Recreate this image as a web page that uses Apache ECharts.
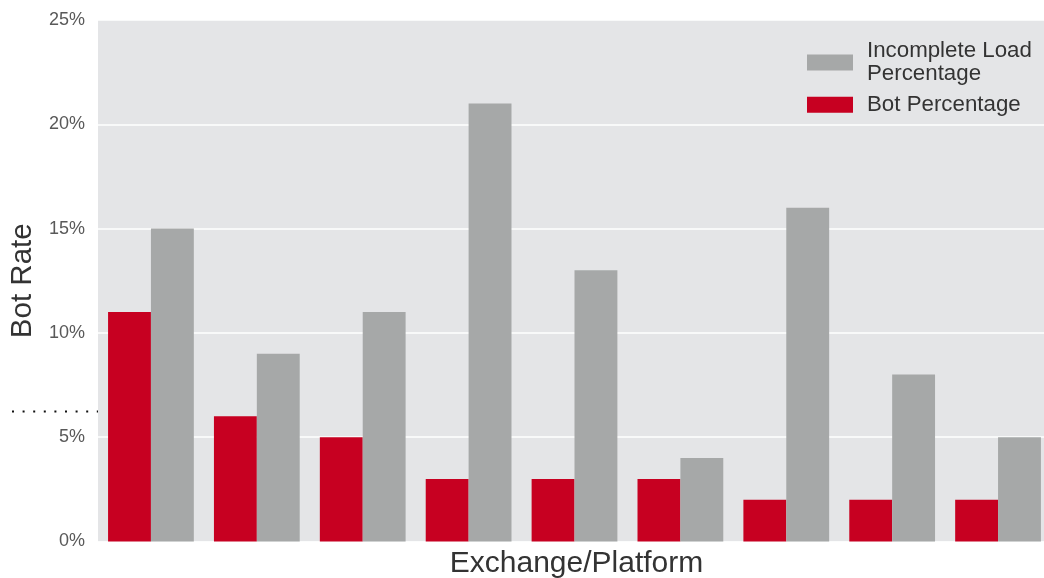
<!DOCTYPE html>
<html>
<head>
<meta charset="utf-8">
<script src="https://cdn.jsdelivr.net/npm/echarts@6/dist/echarts.min.js"></script>
<style>html,body{margin:0;padding:0;background:#fff}#c{width:1044px;height:578px}</style>
</head>
<body>
<div id="c"></div>
<script>
const categories = ['1','2','3','4','5','6','7','8','9'];
const botPercentage = [11, 6, 5, 3, 3, 3, 2, 2, 2];
const incompleteLoad = [15, 9, 11, 21, 13, 4, 16, 8, 5];
const yTicks = [0, 5, 10, 15, 20, 25];

const chart = echarts.init(document.getElementById('c'));
const font = '"Liberation Sans", Arial, sans-serif';
chart.setOption({
  animation: false,
  textStyle: { fontFamily: font },
  grid: { left: 98, width: 953, top: 20, height: 521.5, show: true, backgroundColor: '#E4E5E7', borderWidth: 0, outerBoundsMode: 'none', containLabel: false },
  legend: {
    orient: 'vertical', left: 802, top: 34, itemWidth: 46, itemHeight: 16, itemGap: 7,
    icon: 'rect',
    data: ['Incomplete Load Percentage', 'Bot Percentage'],
    formatter: n => n === 'Incomplete Load Percentage' ? 'Incomplete Load\nPercentage' : n,
    textStyle: { fontSize: 22.3, lineHeight: 23.5, color: '#333', fontFamily: font, padding: [0,0,0,9] }
  },
  xAxis: {
    type: 'category', data: categories,
    axisLabel: { show: false }, axisTick: { show: false }, axisLine: { show: false },
    name: 'Exchange/Platform', nameLocation: 'middle', nameGap: 7,
    nameTextStyle: { fontSize: 30, color: '#333', fontFamily: font, verticalAlign: 'top', padding: [0, 0, 0, 4] }
  },
  yAxis: {
    type: 'value', min: yTicks[0], max: yTicks[yTicks.length-1], interval: 5,
    axisLabel: { formatter: '{value}%', fontSize: 18, color: '#595959', margin: 13, fontFamily: font },
    splitLine: { lineStyle: { color: '#ffffff', width: 1.5 } },
    axisLine: { show: false }, axisTick: { show: false },
    name: 'Bot Rate', nameLocation: 'middle', nameGap: 59,
    nameTextStyle: { fontSize: 29.5, color: '#333', fontFamily: font }
  },
  series: [
    { name: 'Bot Percentage', type: 'bar', data: botPercentage, barGap: '0%', barCategoryGap: '19%', itemStyle: { color: '#C70021' } },
    { name: 'Incomplete Load Percentage', type: 'bar', data: incompleteLoad, itemStyle: { color: '#A6A8A8' } }
  ],
  graphic: [{
    type: 'line', shape: { x1: 12, y1: 411.5, x2: 98, y2: 411.5 },
    style: { stroke: '#111', lineWidth: 2, lineDash: [2, 8.6] }
  }]
});
</script>
</body>
</html>
